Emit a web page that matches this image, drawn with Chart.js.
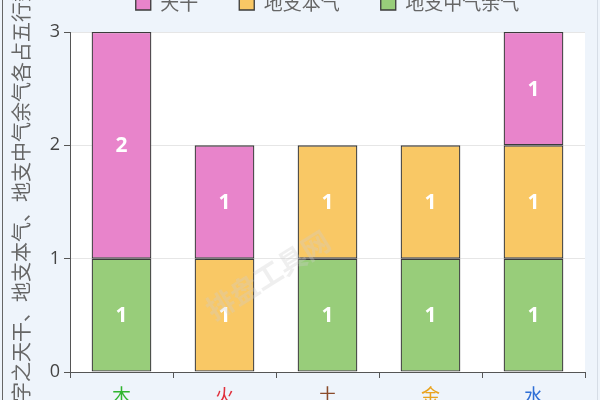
<!DOCTYPE html>
<html><head><meta charset="utf-8">
<script src="https://cdn.jsdelivr.net/npm/chart.js@4.4.1/dist/chart.umd.min.js"></script>
<style>
html,body{margin:0;padding:0;width:600px;height:400px;overflow:hidden;background:#eef4fb;}
#wrap{position:absolute;left:0;top:-48px;width:600px;height:470px;}
#edge{position:absolute;left:2px;top:0;width:1px;height:400px;background:#666;}
#edgeR{position:absolute;left:597px;top:0;width:1px;height:400px;background:#d6dde6;}
</style></head><body>
<div id="wrap"><canvas id="c"></canvas></div>
<div id="edge"></div><div id="edgeR"></div>
<script>
const categories = ['木', '火', '土', '金', '水'];
const categoryColors = ['#2fb52f', '#e0303c', '#8a4b2a', '#e9a31e', '#2f6fd6'];
const seriesNames = ['地支中气余气', '地支本气', '天干'];
const zhongYuQi = [1, 0, 1, 1, 1];
const benQi = [0, 1, 1, 1, 1];
const tianGan = [2, 1, 0, 0, 1];
const yTicks = [0, 1, 2, 3];
const yTitle = '八字之天干、地支本气、地支中气余气各占五行数';
const watermark = '排盘工具网';

const legendFix = {
  id: 'legendFix',
  beforeInit(chart) {
    const fit = chart.legend.fit;
    chart.legend.fit = function () { fit.call(this); this.height = 80; };
  }
};

const plotBg = {
  id: 'plotBg',
  beforeDraw(chart) {
    const a = chart.chartArea, ctx = chart.ctx;
    ctx.save();
    ctx.fillStyle = '#ffffff';
    ctx.fillRect(a.left, a.top, a.right - a.left, a.bottom - a.top);
    ctx.restore();
  }
};

const valueLabels = {
  id: 'valueLabels',
  afterDatasetsDraw(chart) {
    const ctx = chart.ctx;
    ctx.save();
    ctx.font = 'bold 21px "Noto Sans", "Open Sans", sans-serif';
    ctx.fillStyle = '#ffffff';
    ctx.textAlign = 'center';
    ctx.textBaseline = 'middle';
    chart.data.datasets.forEach((ds, i) => {
      const meta = chart.getDatasetMeta(i);
      meta.data.forEach((bar, j) => {
        const v = ds.data[j];
        if (v > 0) ctx.fillText(String(v), bar.x, (bar.y + bar.base) / 2 + 1);
      });
    });
    // watermark
    ctx.translate(268, 323);
    ctx.rotate(-0.56);
    ctx.font = 'bold 28px "Noto Sans CJK SC", sans-serif';
    ctx.fillStyle = 'rgba(205,205,205,0.32)';
    ctx.fillText(watermark, 0, 0);
    ctx.restore();
  }
};

const borderCol = '#3b3b3b';
new Chart(document.getElementById('c'), {
  type: 'bar',
  data: {
    labels: categories,
    datasets: [
      { label: seriesNames[0], data: zhongYuQi, backgroundColor: '#98cd7a' },
      { label: seriesNames[1], data: benQi, backgroundColor: '#f9c865' },
      { label: seriesNames[2], data: tianGan, backgroundColor: '#e884cb' }
    ].map(d => Object.assign(d, { borderColor: borderCol, borderWidth: 1.3, borderSkipped: false,
      categoryPercentage: 1, barPercentage: 0.58 }))
  },
  options: {
    responsive: true,
    maintainAspectRatio: false,
    animation: false,
    devicePixelRatio: 1,
    layout: { padding: { left: 0, right: 15, top: 0, bottom: 0 } },
    plugins: {
      legend: {
        position: 'top',
        fullSize: false,
        reverse: true,
        labels: {
          boxWidth: 15, boxHeight: 15, padding: 41,
          color: '#666',
          font: { size: 19, family: '"Noto Sans CJK SC", sans-serif' }
        }
      },
      tooltip: { enabled: false }
    },
    scales: {
      x: {
        stacked: true,
        grid: { drawOnChartArea: false, drawTicks: true, tickLength: 6, tickColor: '#555', color: '#555' },
        border: { color: '#555', width: 1 },
        ticks: {
          padding: 6,
          font: { size: 19, family: '"Noto Sans CJK SC", sans-serif' },
          color: (c) => categoryColors[c.index]
        },
        afterFit(s) { s.height = 50; }
      },
      y: {
        stacked: true,
        min: 0, max: 3,
        afterBuildTicks(s) { s.ticks = yTicks.map(v => ({ value: v })); },
        grid: { color: '#e6e6e6', tickColor: '#555', tickLength: 6 },
        border: { color: '#555', width: 1 },
        ticks: {
          padding: 4,
          color: '#444',
          font: { size: 18, family: '"Open Sans", "Noto Sans", sans-serif' }
        },
        title: {
          display: true,
          text: yTitle,
          color: '#666',
          padding: { top: 9, bottom: 0 },
          font: { size: 20, family: '"Noto Sans CJK SC", sans-serif' }
        },
        afterFit(s) { s.width = 70; }
      }
    }
  },
  plugins: [plotBg, legendFix, valueLabels]
});
</script>
</body></html>
